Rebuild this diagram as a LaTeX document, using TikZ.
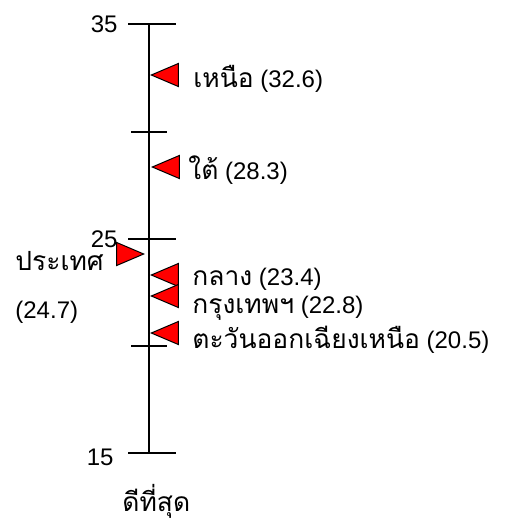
\documentclass[tikz,border=0pt]{standalone}
\usepackage{fontspec}
\setmainfont{Liberation Sans}
\newfontfamily\thaifont[Script=Thai,Scale=1.1]{Loma}
\usetikzlibrary{calc,positioning,shapes.geometric}

\tikzset{
  flag/.style={draw,fill=red,line width=.5pt,isosceles triangle,isosceles triangle stretches,
    inner sep=0pt,minimum width=11.5pt,minimum height=13.5pt,anchor=apex},
  lbl/.style={inner sep=0pt,anchor=base west}
}
\newcommand\thai[1]{{\thaifont #1}}

\begin{document}
\begin{tikzpicture}[x=0.5pt,y=-0.5pt,font=\fontsize{12}{14}\selectfont]

  \useasboundingbox (0,0) rectangle (509,521);

  % axis
  \coordinate (axis_top) at (149,24);
  \coordinate (axis_bottom) at (149,453);
  \draw [line width=1pt] (axis_top) -- (axis_bottom);

  % ticks with labels
  \foreach \v/\y/\lx/\b in {35/24/118/32,25/239/118/247,15/453/114/465}
  {
    \coordinate (tick_\v_l) at (128,\y);
    \coordinate (tick_\v_r) at (176,\y);
    \draw [line width=1pt] (tick_\v_l) -- (tick_\v_r);
    \node [inner sep=0pt,anchor=base east] at (\lx,\b) (tick_label_\v) {\v};
  }
  % ticks without labels
  \foreach \v/\y in {30/131.5,20/346}
  {
    \coordinate (tick_\v_l) at (131,\y);
    \coordinate (tick_\v_r) at (167,\y);
    \draw [line width=1pt] (tick_\v_l) -- (tick_\v_r);
  }

  % regions
  \node [flag,shape border rotate=180] at (150,75) (flag_north) {};
  \node [lbl] at (193,87) (label_north) {\thai{เหนือ} (32.6)};

  \node [flag,shape border rotate=180] at (151,167) (flag_south) {};
  \node [lbl] at (188,179) (label_south) {\thai{ใต้} (28.3)};

  \node [flag] at (145,254) (flag_country) {};
  \node [lbl] at (15,270) (label_country) {\thai{ประเทศ}};
  \node [lbl] at (15,318) (value_country) {(24.7)};

  \node [flag,shape border rotate=180] at (150,275) (flag_central) {};
  \node [lbl] at (192,285) (label_central) {\thai{กลาง} (23.4)};

  \node [flag,shape border rotate=180] at (150,296) (flag_bangkok) {};
  \node [lbl] at (192,313) (label_bangkok) {\thai{กรุงเทพฯ} (22.8)};

  \node [flag,shape border rotate=180] at (150,333) (flag_northeast) {};
  \node [lbl] at (192,348) (label_northeast) {\thai{ตะวันออกเฉียงเหนือ} (20.5)};

  \node [lbl] at (122,511) (label_best) {\thai{ดีที่สุด}};

\end{tikzpicture}
\end{document}
